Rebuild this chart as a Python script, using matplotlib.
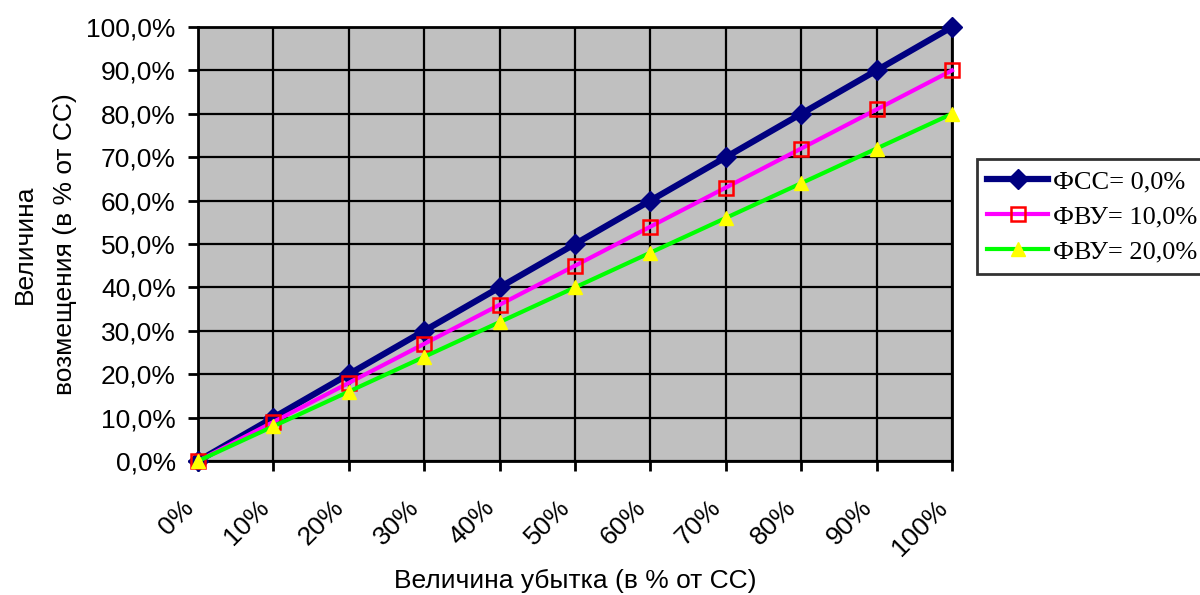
import matplotlib
matplotlib.use("Agg")
import numpy as np
import matplotlib.pyplot as plt

categories = ["0%", "10%", "20%", "30%", "40%", "50%", "60%", "70%", "80%", "90%", "100%"]
fss_0 = [0.0, 10.0, 20.0, 30.0, 40.0, 50.0, 60.0, 70.0, 80.0, 90.0, 100.0]
fvu_10 = [0.0, 9.0, 18.0, 27.0, 36.0, 45.0, 54.0, 63.0, 72.0, 81.0, 90.0]
fvu_20 = [0.0, 8.0, 16.0, 24.0, 32.0, 40.0, 48.0, 56.0, 64.0, 72.0, 80.0]
series_names = ["ФСС= 0,0%", "ФВУ= 10,0%", "ФВУ= 20,0%"]
y_ticks = [0, 10, 20, 30, 40, 50, 60, 70, 80, 90, 100]

sans = "Liberation Sans"
serif = "Liberation Serif"

fig = plt.figure(figsize=(12, 5.95), dpi=100)
ax = fig.add_axes([0.165, 0.2252, 0.6283, 0.7294])
ax.set_facecolor("#C0C0C0")

x = np.arange(len(categories))
ax.plot(x, fss_0, color="#000080", lw=4.5, marker="D", ms=10.5,
        mfc="#000080", mec="#000080", label=series_names[0], zorder=3, clip_on=False)
ax.plot(x, fvu_10, color="#FF00FF", lw=3, marker="s", ms=10,
        mfc="none", mec="#FF0000", mew=1.8, label=series_names[1], zorder=4, clip_on=False)
ax.plot(x, fvu_20, color="#00FF00", lw=3, marker="^", ms=10,
        mfc="#FFFF00", mec="#FFFF00", label=series_names[2], zorder=5, clip_on=False)

ax.set_xlim(0, len(categories) - 1)
ax.set_ylim(0, 100)
ax.set_xticks(x)
ax.set_xticklabels(categories, rotation=45, ha="right", va="bottom",
                   rotation_mode="anchor", fontsize=19, family=sans)
ax.set_yticks(y_ticks)
ax.set_yticklabels([f"{v:.1f}%".replace(".", ",") for v in y_ticks],
                   fontsize=19, family=sans)
ax.tick_params(axis="both", length=7, width=2, color="black", direction="out")
ax.tick_params(axis="x", pad=30)
ax.tick_params(axis="y", pad=9)

ax.grid(True, color="black", lw=1.6)
ax.set_axisbelow(True)
for s in ax.spines.values():
    s.set_linewidth(2)

ax.set_xlabel("Величина убытка (в % от СС)", fontsize=19, family=sans)
ax.xaxis.set_label_coords(0.5, -0.249)
ax.set_ylabel("Величина\nвозмещения (в % от СС)", fontsize=19, family=sans,
              linespacing=1.85)
ax.yaxis.set_label_coords(-0.160, 0.5)

leg = ax.legend(loc="upper left", bbox_to_anchor=(0.814, 0.7328),
                bbox_transform=fig.transFigure, frameon=True, fancybox=False,
                edgecolor="black", prop={"family": serif, "size": 19},
                handlelength=2.3, handletextpad=0.2, borderpad=0.4,
                labelspacing=0.45, borderaxespad=0)
leg.get_frame().set_linewidth(2)

fig.savefig("out.png", dpi=100)
